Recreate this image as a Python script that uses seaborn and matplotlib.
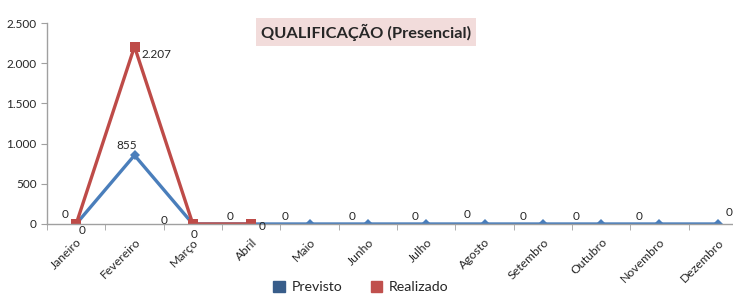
import matplotlib
matplotlib.use("Agg")
import matplotlib.pyplot as plt
from matplotlib.patches import Patch
import matplotlib.transforms as mtransforms
import seaborn as sns
import numpy as np
import pandas as pd

meses = ["Janeiro", "Fevereiro", "Março", "Abril", "Maio", "Junho", "Julho",
         "Agosto", "Setembro", "Outubro", "Novembro", "Dezembro"]
previsto = [0, 855, 0, 0, 0, 0, 0, 0, 0, 0, 0, 0]
realizado = [0, 2207, 0, 0, None, None, None, None, None, None, None, None]
titulo = "QUALIFICAÇÃO (Presencial)"

# data-label placement (pixel offsets of label centre from the marker; style only)
off_prev = [(-11, -10), (-8, -10), (-29, -3), (-21, -7), (-24, -8), (-16, -7),
            (-11, -8), (-17, -9), (-20, -8), (-25, -8), (-20, -8), (11, -11)]
off_real = [(6, 6), (22, 7.5), (1.5, 11), (11, 2.5)]

sns.set_style("white")
plt.rcParams["font.family"] = ["Lato", "DejaVu Sans"]

fig = plt.figure(figsize=(7.33, 2.94), dpi=100)
ax = fig.add_axes([47/733, 70/294, 700/733, 201/294])

x = np.arange(len(meses))
dfp = pd.DataFrame({"x": x, "y": previsto})
dfr = pd.DataFrame({"x": x, "y": pd.array(realizado, dtype="Float64")}).dropna()

c_prev = "#4a7ebb"
c_real = "#be4b48"
sns.lineplot(data=dfp, x="x", y="y", ax=ax, color=c_prev, lw=2.4,
             marker="D", markersize=5.5, markeredgewidth=0, legend=False)
sns.lineplot(data=dfr, x="x", y="y", ax=ax, color=c_real, lw=2.4,
             marker="s", markersize=7.5, markeredgewidth=0, legend=False)

def fmt(v):
    return f"{int(v):,}".replace(",", ".")

PX = 0.72  # points per pixel at dpi 100
for xi, v, (dx, dy) in zip(x, previsto, off_prev):
    ax.annotate(fmt(v), (xi, v), xytext=(dx * PX, -dy * PX), textcoords="offset points",
                ha="center", va="center", fontsize=8.5, clip_on=False)
for xi, v, (dx, dy) in zip(x, realizado, off_real):
    if v is None:
        continue
    ax.annotate(fmt(v), (xi, v), xytext=(dx * PX, -dy * PX), textcoords="offset points",
                ha="center", va="center", fontsize=8.5, clip_on=False)

ax.set_xlim(-0.5, 11.5)
ax.set_ylim(0, 2500)
ax.set_yticks([0, 500, 1000, 1500, 2000, 2500])
ax.set_yticklabels([fmt(v) for v in [0, 500, 1000, 1500, 2000, 2500]], fontsize=8.5)
ax.set_xticks(x)
ax.set_xticklabels(meses, rotation=45, ha="right", va="top",
                   rotation_mode="anchor", fontsize=8.8)
shift = mtransforms.ScaledTranslation(2/100, 0, fig.dpi_scale_trans)
for lab in ax.get_xticklabels():
    lab.set_transform(lab.get_transform() + shift)
ax.set_xticks(np.arange(-0.5, 12, 1), minor=True)
ax.tick_params(axis="x", which="major", length=0, pad=9)
ax.tick_params(axis="x", which="minor", length=4, color="#a0a0a0", direction="out", bottom=True)
ax.tick_params(axis="y", length=4, color="#a0a0a0", direction="out", left=True)
ax.set_xlabel("")
ax.set_ylabel("")
for s in ["top", "right"]:
    ax.spines[s].set_visible(False)
for s in ["left", "bottom"]:
    ax.spines[s].set_color("#a0a0a0")
    ax.spines[s].set_linewidth(1)
ax.grid(False)

fig.text(366/733, 1 - 32/294, titulo, ha="center", va="center", fontsize=11.8,
         fontweight="bold", bbox=dict(boxstyle="square,pad=0.33", fc="#f2dcdb", ec="none"))

handles = [Patch(color="#385d8a", label="Previsto"), Patch(color="#c0504d", label="Realizado")]
fig.legend(handles=handles, loc="center", bbox_to_anchor=(361/733, 1 - 287/294), ncol=2,
           frameon=False, fontsize=10.2, handlelength=0.8, handleheight=0.8,
           columnspacing=2.0, handletextpad=0.5, borderpad=0.1)

fig.savefig("out.png", dpi=100)
